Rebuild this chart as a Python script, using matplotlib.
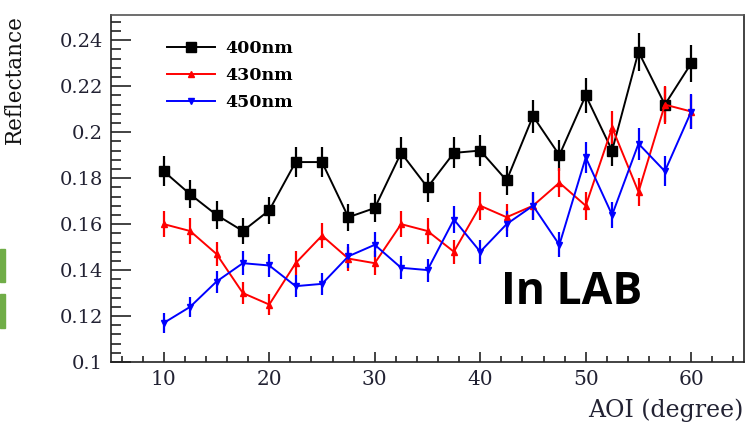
import matplotlib
matplotlib.use("Agg")
import matplotlib.pyplot as plt
from matplotlib.ticker import MultipleLocator
from matplotlib.patches import Rectangle

# Angle of incidence (degrees)
aoi = [10, 12.5, 15, 17.5, 20, 22.5, 25, 27.5, 30, 32.5, 35,
       37.5, 40, 42.5, 45, 47.5, 50, 52.5, 55, 57.5, 60]

# Reflectance per wavelength
r400 = [0.183, 0.173, 0.164, 0.157, 0.166, 0.187, 0.187, 0.163, 0.167, 0.191, 0.176,
        0.191, 0.192, 0.179, 0.207, 0.190, 0.216, 0.192, 0.235, 0.212, 0.230]
r430 = [0.160, 0.157, 0.147, 0.130, 0.125, 0.143, 0.155, 0.145, 0.143, 0.160, 0.157,
        0.148, 0.168, 0.163, 0.168, 0.178, 0.168, 0.202, 0.174, 0.212, 0.209]
r450 = [0.117, 0.124, 0.135, 0.143, 0.142, 0.133, 0.134, 0.146, 0.151, 0.141, 0.140,
        0.162, 0.148, 0.160, 0.168, 0.151, 0.189, 0.164, 0.195, 0.183, 0.209]

# Uncertainties
e400 = [0.0065, 0.0062, 0.0060, 0.0058, 0.0060, 0.0066, 0.0066, 0.0059, 0.0060, 0.0067, 0.0062,
        0.0067, 0.0067, 0.0063, 0.0072, 0.0067, 0.0076, 0.0067, 0.0082, 0.0075, 0.0080]
e430 = [0.0058, 0.0056, 0.0053, 0.0047, 0.0045, 0.0051, 0.0055, 0.0052, 0.0051, 0.0057, 0.0056,
        0.0053, 0.0060, 0.0058, 0.0060, 0.0063, 0.0060, 0.0072, 0.0062, 0.0083, 0.0074]
e450 = [0.0042, 0.0044, 0.0048, 0.0051, 0.0050, 0.0047, 0.0048, 0.0052, 0.0054, 0.0050, 0.0050,
        0.0058, 0.0053, 0.0057, 0.0060, 0.0054, 0.0067, 0.0058, 0.0069, 0.0065, 0.0076]

labels = ["400nm", "430nm", "450nm"]
colors = ["black", "#ff0000", "#0000ff"]
markers = ["s", "^", "v"]
msizes = [7, 4.5, 5]

fig = plt.figure(figsize=(7.51, 4.26), dpi=100)
ax = fig.add_axes([111 / 751, 1 - 362 / 426, 633 / 751, 347 / 426])

for r, e, lab, c, m, ms in zip([r400, r430, r450], [e400, e430, e450],
                               labels, colors, markers, msizes):
    ax.errorbar(aoi, r, yerr=e, fmt="none", ecolor=c, elinewidth=1.6, capsize=0, zorder=2)
    ax.plot(aoi, r, color=c, lw=1.4, marker=m, ms=ms, mec=c, mfc=c, label=lab, zorder=3)

ax.set_xlim(5, 65)
ax.set_ylim(0.1, 0.251)

ax.xaxis.set_major_locator(MultipleLocator(10))
ax.xaxis.set_minor_locator(MultipleLocator(2))
ax.yaxis.set_major_locator(MultipleLocator(0.02))
ax.yaxis.set_minor_locator(MultipleLocator(0.004))

tick_color = "#222233"
ax.tick_params(axis="both", which="both", direction="in", top=False, right=False,
               width=1.2, color="#222222", labelcolor=tick_color)
ax.tick_params(axis="y", which="major", length=14.4, labelsize=14, pad=6)
ax.tick_params(axis="y", which="minor", length=7.2)
ax.tick_params(axis="x", which="major", length=7.2, labelsize=14.5, pad=6)
ax.tick_params(axis="x", which="minor", length=4.2)
for lab in ax.get_xticklabels() + ax.get_yticklabels():
    lab.set_fontfamily("DejaVu Serif")
ax.yaxis.set_major_formatter(matplotlib.ticker.FuncFormatter(lambda v, p: f"{v:g}"))

for side in ["left", "bottom", "right"]:
    ax.spines[side].set_color("#222222")
    ax.spines[side].set_linewidth(1.2)
ax.spines["top"].set_color("#555555")
ax.spines["top"].set_linewidth(1.2)

ax.set_xlabel("AOI (degree)", fontfamily="DejaVu Serif", fontsize=17, color=tick_color)
ax.xaxis.set_label_coords(1.0, -0.105)
ax.xaxis.label.set_horizontalalignment("right")
ax.set_ylabel("Reflectance", fontfamily="DejaVu Serif", fontsize=15.5, color="#111111")
ax.yaxis.set_label_coords(-0.135, 1.0)
ax.yaxis.label.set_horizontalalignment("right")

leg = ax.legend(loc="upper left", bbox_to_anchor=(0.088, 0.927), frameon=False,
                prop={"family": "DejaVu Serif", "weight": "bold", "size": 12.5},
                handlelength=2.8, handletextpad=0.6, labelspacing=0.58, borderpad=0,
                borderaxespad=0)

ax.text(0.727, 0.2, "In LAB", transform=ax.transAxes, fontfamily="Open Sans",
        fontweight="bold", fontsize=32, color="black", ha="center", va="center")

# green side markers at the left edge
for y0, y1 in [(249, 282), (294, 328)]:
    fig.patches.append(Rectangle((0, 1 - y1 / 426), 5 / 751, (y1 - y0) / 426,
                                 transform=fig.transFigure, color="#70ad47"))

fig.savefig("out.png", dpi=100)
